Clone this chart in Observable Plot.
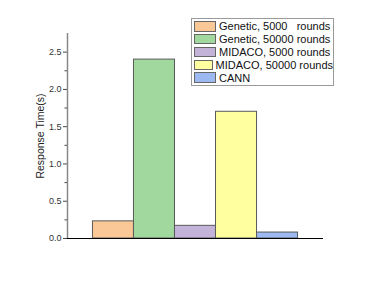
<!DOCTYPE html>
<html><head><meta charset="utf-8">
<script src="https://cdn.jsdelivr.net/npm/d3@7"></script>
<script src="https://cdn.jsdelivr.net/npm/@observablehq/plot@0.6"></script>
<style>
html,body{margin:0;padding:0;background:#fff;}
#wrap{position:relative;width:374px;height:286px;font-family:"Liberation Sans",Arial,sans-serif;}
#legend{position:absolute;left:191px;top:18px;width:143px;border:1px solid #9a9a9a;background:#fff;padding:1px 0;box-sizing:border-box;}
.row{display:flex;align-items:center;height:12.8px;}
.sw{width:22px;height:10.5px;margin:0 3px 0 2px;border:1px solid #666;box-sizing:border-box;}
.lab{font-size:11px;color:#111;white-space:pre;line-height:12px;}
</style></head>
<body><div id="wrap"><div id="chart"></div><div id="legend"></div></div>
<script>
const categories = ["Genetic, 5000   rounds","Genetic, 50000 rounds","MIDACO, 5000 rounds","MIDACO, 50000 rounds","CANN"];
const values = [0.23, 2.40, 0.17, 1.70, 0.08];
const colors = ["#FAC896","#A1D89E","#C3B3D9","#FFFFA0","#9DB9F2"];
const majorTicks = [0, 0.5, 1.0, 1.5, 2.0, 2.5];
const minorTicks = [0.25, 0.75, 1.25, 1.75, 2.25];
const yLabel = "Response Time(s)";

const data = categories.map((c,i)=>({cat:c, i, value:values[i]}));
const xDomain = [-0.5 - 0.62, categories.length - 0.5 + 0.62];

const chart = Plot.plot({
  width: 374, height: 286,
  marginLeft: 67, marginRight: 51, marginTop: 33, marginBottom: 48,
  style: {fontFamily: "'Liberation Sans', Arial, sans-serif", fontSize: "9px", color: "#333", background: "#fff"},
  x: {domain: xDomain, axis: null},
  y: {domain: [0, 2.75]},
  color: {domain: categories, range: colors},
  marks: [
    Plot.rectY(data, {x1: d => d.i - 0.5, x2: d => d.i + 0.5, y: "value", fill: "cat", stroke: "#5a5a5a", strokeWidth: 1}),
    Plot.axisY({ticks: majorTicks, tickFormat: d3.format(".1f"), tickSize: 4, tickPadding: 2, label: null, stroke: "#444"}),
    Plot.axisY({ticks: minorTicks, tickSize: 2.5, tickFormat: () => "", label: null, stroke: "#444"}),
    Plot.ruleX([xDomain[0]], {y1: 0, y2: 2.75, stroke: "#888", strokeWidth: 1.5}),
    Plot.ruleY([0], {stroke: "#000", strokeWidth: 1}),
    Plot.text([yLabel], {frameAnchor: "left", dx: -27, rotate: -90, fontSize: 10.5, fill: "#222", textAnchor: "middle"})
  ]
});
document.getElementById("chart").appendChild(chart);

const leg = document.getElementById("legend");
categories.forEach((c,i)=>{
  const r = document.createElement("div"); r.className="row";
  const s = document.createElement("div"); s.className="sw"; s.style.background=colors[i];
  const t = document.createElement("span"); t.className="lab"; t.textContent=c;
  r.appendChild(s); r.appendChild(t); leg.appendChild(r);
});
</script></body></html>
